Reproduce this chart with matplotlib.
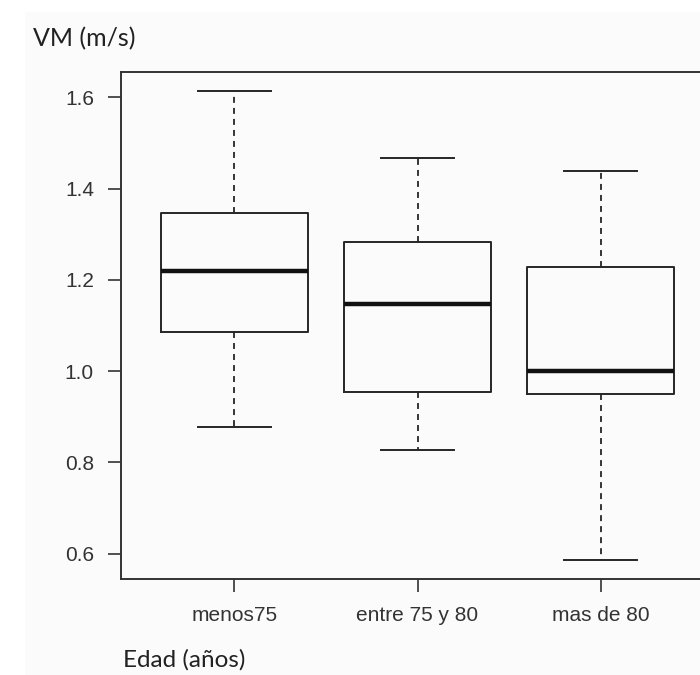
import matplotlib
matplotlib.use("Agg")
import matplotlib.pyplot as plt
from matplotlib.patches import Rectangle

categories = ["menos75", "entre 75 y 80", "mas de 80"]
whisker_low = [0.878, 0.828, 0.586]
q1 = [1.085, 0.955, 0.951]
median = [1.219, 1.148, 1.000]
q3 = [1.347, 1.283, 1.228]
whisker_high = [1.614, 1.466, 1.439]
yticks = [0.6, 0.8, 1.0, 1.2, 1.4, 1.6]
ylabel = "VM (m/s)"
xlabel = "Edad (años)"

fig = plt.figure(figsize=(7, 6.75), dpi=100)
fig.patch.set_facecolor("white")
fig.patches.append(Rectangle((25/700, 0), 1, 1 - 12/675, transform=fig.transFigure,
                             facecolor="#fbfbfb", edgecolor="none", zorder=-10))

ax = fig.add_axes([121/700, 1 - 579/675, 593/700, 507/675])
ax.set_facecolor("#fbfbfb")

stats = []
for i in range(len(categories)):
    stats.append(dict(med=median[i], q1=q1[i], q3=q3[i],
                      whislo=whisker_low[i], whishi=whisker_high[i],
                      fliers=[], label=categories[i]))

positions = list(range(1, len(categories) + 1))
ax.bxp(stats, positions=positions, widths=0.8, showfliers=False,
       boxprops=dict(color="#262626", linewidth=1.4),
       medianprops=dict(color="#111111", linewidth=3.2),
       whiskerprops=dict(color="#262626", linewidth=1.3, linestyle=(0, (3.3, 2.8))),
       capprops=dict(color="#262626", linewidth=1.4),
       capwidths=0.4)

lo = min(whisker_low); hi = max(whisker_high); rng = hi - lo
ax.set_ylim(lo - 0.04 * rng, hi + 0.04 * rng)
n = len(categories)
ax.set_xlim(0.5 - 0.04 * n, n + 0.5 + 0.04 * n)

ax.set_yticks(yticks)
ax.set_yticklabels([f"{v:.1f}" for v in yticks])
ax.set_xticks(positions)
ax.set_xticklabels(categories)

for lab in ax.get_xticklabels() + ax.get_yticklabels():
    lab.set_fontfamily(["Liberation Sans", "DejaVu Sans"])
    lab.set_fontsize(15)
    lab.set_color("#333333")

ax.tick_params(axis="y", direction="out", length=9.5, width=1.2, color="#333333", pad=10)
ax.tick_params(axis="x", direction="out", length=9.5, width=1.2, color="#333333", pad=10)
for s in ax.spines.values():
    s.set_color("#333333")
    s.set_linewidth(1.4)

fig.text(33/700, 1 - 46/675, ylabel, fontsize=18, family=["Lato", "DejaVu Sans"],
         color="#222222", ha="left", va="baseline")
fig.text(123/700, 1 - 667/675, xlabel, fontsize=17.5, family=["Lato", "DejaVu Sans"],
         color="#222222", ha="left", va="baseline")

fig.savefig("out.png", dpi=100, facecolor=fig.get_facecolor())
